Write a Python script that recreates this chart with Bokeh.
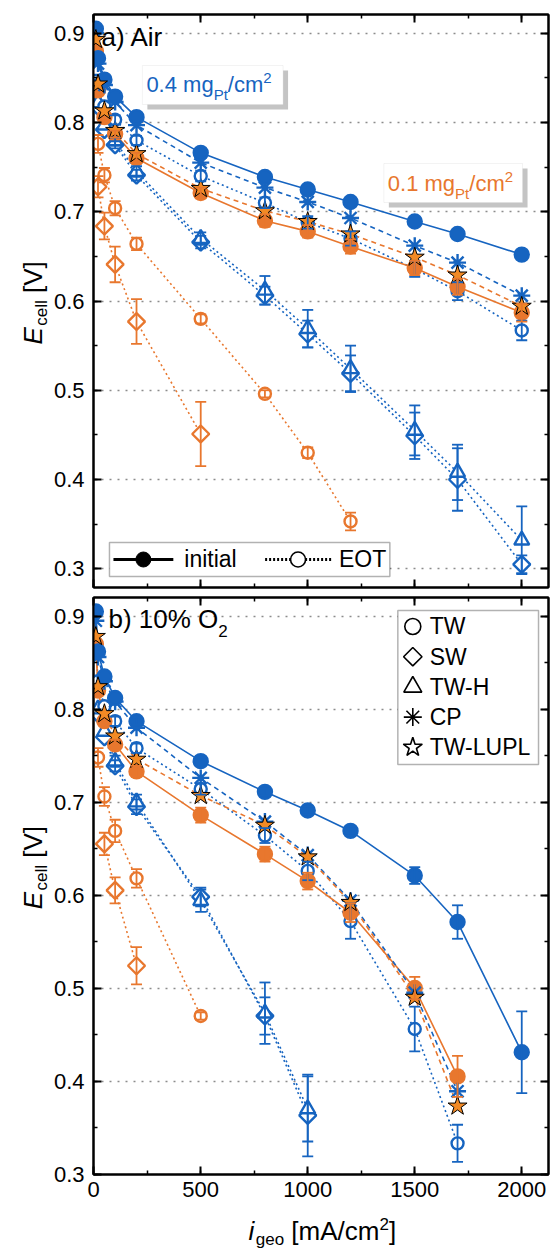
import math
from bokeh.plotting import figure
from bokeh.layouts import column, row
from bokeh.models import (Range1d, LinearAxis, SingleIntervalTicker, Whisker, TeeHead,
                          ColumnDataSource, Label, BoxAnnotation, CustomJSTickFormatter)
from bokeh.embed import file_html
from bokeh.resources import INLINE

BLUE = "#1664C0"
ORANGE = "#E8772E"
STAR = "#F28A25"
FONT = "Liberation Sans"

# ---------------- data: panel a (Air) ----------------
I_A = [10, 20, 50, 100, 200, 500, 800, 1000, 1200, 1500, 1700, 2000]
a_init_04 = [0.905, 0.872, 0.848, 0.829, 0.806, 0.766, 0.739, 0.725, 0.711, 0.689, 0.675, 0.652]
a_cp_04 = [0.900, 0.866, 0.842, 0.823, 0.797, 0.755, 0.727, 0.711, 0.693, 0.662, 0.643, 0.606]
a_tw_04 = [0.875, 0.842, 0.818, 0.803, 0.780, 0.740, 0.710, 0.688, 0.670, 0.636, 0.611, 0.567]
a_tw_04_err = [0, 0, 0, 0.005, 0.005, 0.006, 0.006, 0.007, 0.008, 0.009, 0.010, 0.011]
a_twh_04 = [0.858, 0.822, 0.797, 0.779, 0.745, 0.670, 0.612, 0.569, 0.524, 0.455, 0.408, 0.332]
a_twh_04_err = [0, 0, 0, 0.004, 0.006, 0.007, 0.016, 0.021, 0.026, 0.028, 0.031, 0.038]
a_sw_04 = [0.852, 0.818, 0.792, 0.775, 0.741, 0.666, 0.606, 0.563, 0.519, 0.449, 0.400, 0.305]
a_sw_04_err = [0, 0, 0, 0.004, 0.006, 0.007, 0.010, 0.015, 0.020, 0.026, 0.035, 0.010]
a_init_01 = [0.880, 0.836, 0.806, 0.787, 0.760, 0.721, 0.690, 0.678, 0.661, 0.637, 0.616, 0.587]
a_init_01_err = [0, 0, 0, 0.004, 0.006, 0.006, 0.007, 0.007, 0.008, 0.008, 0.009, 0.010]
a_lupl_01 = [0.893, 0.843, 0.813, 0.791, 0.765, 0.726, 0.701, 0.689, 0.675, 0.649, 0.629, 0.594]
I_A_TW01 = [20, 50, 100, 200, 500, 800, 1000, 1200]
a_tw_01 = [0.776, 0.741, 0.704, 0.664, 0.580, 0.496, 0.430, 0.353]
a_tw_01_err = [0.010, 0.008, 0.008, 0.007, 0.005, 0.004, 0.006, 0.010]
I_A_SW01 = [20, 50, 100, 200, 500]
a_sw_01 = [0.728, 0.684, 0.641, 0.577, 0.451]
a_sw_01_err = [0.012, 0.015, 0.020, 0.025, 0.036]

# ---------------- data: panel b (10% O2) ----------------
I_B = [10, 20, 50, 100, 200, 500, 800, 1000, 1200, 1500, 1700, 2000]
b_init_04 = [0.905, 0.862, 0.835, 0.812, 0.787, 0.744, 0.711, 0.691, 0.669, 0.621, 0.571, 0.431]
b_init_04_err = [0, 0, 0, 0, 0.004, 0.004, 0.004, 0.004, 0.005, 0.009, 0.018, 0.044]
I_B17 = [10, 20, 50, 100, 200, 500, 800, 1000, 1200, 1500, 1700]
b_cp_04 = [0.895, 0.856, 0.830, 0.808, 0.780, 0.726, 0.679, 0.643, 0.594, 0.495, 0.389]
b_tw_04 = [0.870, 0.830, 0.803, 0.787, 0.758, 0.714, 0.664, 0.626, 0.572, 0.456, 0.333]
b_tw_04_err = [0, 0, 0, 0.005, 0.005, 0.006, 0.008, 0.010, 0.019, 0.024, 0.020]
I_B_H = [20, 50, 100, 200, 500, 800, 1000]
b_twh_04 = [0.800, 0.776, 0.744, 0.700, 0.594, 0.473, 0.370]
b_twh_04_err = [0, 0, 0.006, 0.008, 0.012, 0.033, 0.035]
b_sw_04 = [0.795, 0.770, 0.739, 0.695, 0.598, 0.470, 0.363]
b_sw_04_err = [0, 0, 0.006, 0.008, 0.010, 0.020, 0.044]
b_init_01 = [0.870, 0.820, 0.787, 0.762, 0.733, 0.686, 0.644, 0.615, 0.581, 0.500, 0.405]
b_init_01_err = [0, 0, 0, 0.005, 0.006, 0.008, 0.008, 0.009, 0.010, 0.012, 0.022]
b_lupl_01 = [0.878, 0.824, 0.795, 0.771, 0.746, 0.707, 0.675, 0.641, 0.592, 0.490, 0.373]
I_B_TW01 = [20, 50, 100, 200, 500]
b_tw_01 = [0.748, 0.706, 0.669, 0.618, 0.470]
b_tw_01_err = [0.010, 0.010, 0.012, 0.010, 0.004]
I_B_SW01 = [50, 100, 200]
b_sw_01 = [0.655, 0.605, 0.524]
b_sw_01_err = [0.012, 0.014, 0.020]

LEGEND_A = ["initial", "EOT"]
LEGEND_B = ["TW", "SW", "TW-H", "CP", "TW-LUPL"]

X_TICK_STEP = 500
Y_TICK_STEP = 0.1

# ---------------- layout ----------------
W = 553
STRIP = 50            # strip holding the rotated y label
BL, BR = 92 - STRIP, 5
PW = W - STRIP
FW = PW - BL - BR     # 456
XR = (-1, 2125)
A_TOP, A_FH, A_BOT = 14, 573, 5
B_TOP, B_FH, B_BOT = 5, 577, 38
XL_H = 1251 - (A_TOP + A_FH + A_BOT) - (B_TOP + B_FH + B_BOT)
A_YR = (0.279, 0.921)
B_YR = (0.2995, 0.92)

CW = {'0': .556, '1': .556, '2': .556, '3': .556, '4': .556, '5': .556, '6': .556, '7': .556,
      '8': .556, '9': .556, '.': .278, ' ': .278, 'm': .833, 'g': .556, 'P': .667, 't': .278,
      '/': .278, 'c': .5, 'e': .556, 'l': .222, 'o': .556, '[': .278, ']': .278, 'A': .667,
      'V': .667, 'E': .667, 'i': .222, 'b': .556, ')': .333, '%': .889, 'O': .778, 'a': .556,
      'r': .333}
MID = 0.35   # distance from baseline to the middle of the em box, in em


def tw(s, size):
    return sum(CW.get(ch, .556) for ch in s) * size


def make_panel(height, top, bottom, fh, yr, labels_x, top_offset):
    p = figure(width=PW, height=height, x_range=Range1d(*XR), y_range=Range1d(*yr),
               output_backend="svg", toolbar_location=None,
               min_border_left=BL, min_border_right=BR, min_border_top=top,
               min_border_bottom=bottom)
    xt = SingleIntervalTicker(interval=X_TICK_STEP, num_minor_ticks=2)
    yt = SingleIntervalTicker(interval=Y_TICK_STEP, num_minor_ticks=2)
    p.xaxis.ticker = xt
    p.yaxis.ticker = yt
    p.add_layout(LinearAxis(ticker=xt), "above")
    p.add_layout(LinearAxis(ticker=yt), "right")
    blank = CustomJSTickFormatter(code="return ''")
    for ax in p.axis:
        ax.axis_line_width = 2
        ax.axis_line_color = "black"
        ax.major_tick_in = 8
        ax.major_tick_out = 0
        ax.minor_tick_in = 4
        ax.minor_tick_out = 0
        ax.major_tick_line_width = 2
        ax.minor_tick_line_width = 1.5
        ax.major_label_text_font = FONT
        ax.major_label_text_color = "black"
        ax.major_label_text_font_size = "22px"
        ax.major_label_standoff = 0
        ax.formatter = blank
    yl = p.left[0]
    yl.formatter = CustomJSTickFormatter(code="return tick.toFixed(1)")
    yl.major_label_standoff = 9
    if labels_x:
        xl = p.below[0]
        xl.formatter = CustomJSTickFormatter(code="return tick.toFixed(0)")
        xl.major_label_standoff = 7
    p.xgrid.visible = False
    p.ygrid.grid_line_color = "#8c8c8c"
    p.ygrid.grid_line_dash = "2 6"
    p.ygrid.grid_line_width = 1.3
    p.outline_line_color = "black"
    p.outline_line_width = 2
    p.background_fill_color = "white"
    p.border_fill_color = "white"

    def px2x(px):
        return XR[0] + (px - 92) * (XR[1] - XR[0]) / FW

    def py2y(py):
        return yr[1] - (py - top_offset) * (yr[1] - yr[0]) / fh
    return p, px2x, py2y


def make_strip(w, h):
    s = figure(width=w, height=h, x_range=Range1d(0, w), y_range=Range1d(0, h),
               output_backend="svg", toolbar_location=None, x_axis_type=None, y_axis_type=None,
               min_border=0, outline_line_color=None)
    s.xgrid.visible = False
    s.ygrid.visible = False
    s.background_fill_color = "white"
    s.border_fill_color = "white"
    return s


def rich(p, x, y, pieces, color="black", angle=0.0):
    """Place text pieces on a common baseline (x, y); shift moves a piece up (+) or down (-)."""
    adv = 0.0
    for text, size, shift, italic in pieces:
        lead = len(text) - len(text.lstrip(" "))
        adv += lead * CW[" "] * size
        text = text.lstrip(" ")
        up = shift + MID * size
        if angle == 0:
            xo, yo = adv, up
        else:
            xo, yo = -up, adv
        p.add_layout(Label(x=x, y=y, x_offset=xo, y_offset=yo, text=text, angle=angle,
                           text_font=FONT, text_font_size=f"{size}px", text_color=color,
                           text_font_style="italic" if italic else "normal",
                           text_baseline="middle", text_align="left"))
        adv += tw(text, size) + (1.5 if italic else 0)


def draw(p, specs):
    srcs = [ColumnDataSource(dict(x=s["x"], y=s["y"])) for s in specs]
    for s, src in zip(specs, srcs):
        p.line("x", "y", source=src, line_color=s["color"], line_width=1.6, line_dash=s["dash"])
    for s in specs:
        errs = s.get("err")
        if not errs:
            continue
        ex = [x for x, e in zip(s["x"], errs) if e > 0]
        lo = [y - e for y, e in zip(s["y"], errs) if e > 0]
        hi = [y + e for y, e in zip(s["y"], errs) if e > 0]
        es = ColumnDataSource(dict(x=ex, lo=lo, hi=hi))
        p.add_layout(Whisker(source=es, base="x", lower="lo", upper="hi", dimension="height",
                             line_color=s["color"], line_width=1.8, level="glyph",
                             upper_head=TeeHead(size=11, line_color=s["color"], line_width=1.8),
                             lower_head=TeeHead(size=11, line_color=s["color"], line_width=1.8)))
    for s, src in zip(specs, srcs):
        m = s["marker"]
        kw = dict(size=s["size"], line_color=s.get("lc", s["color"]), line_width=s.get("lw", 2.4),
                  fill_color=s["fill"])
        if m == "diamond":
            p.scatter("x", "y", source=src, marker="square", angle=math.pi / 4, **kw)
        else:
            p.scatter("x", "y", source=src, marker=m, **kw)


DOT = "2 3"
DASH = "5 4"


def spec(x, y, color, marker, fill, dash, size, err=None, lc=None, lw=2.4):
    d = dict(x=x, y=y, color=color, marker=marker, fill=fill, dash=dash, size=size, err=err, lw=lw)
    if lc:
        d["lc"] = lc
    return d


def legend_box(p, fx, fy, l, r, t, b):
    p.add_layout(BoxAnnotation(left=fx(l), right=fx(r), top=fy(t), bottom=fy(b),
                               fill_color="white", fill_alpha=1, line_color="black",
                               line_width=1.5))


# ---------------- panel a ----------------
HA = A_TOP + A_FH + A_BOT
pa, ax_x, ay_y = make_panel(HA, A_TOP, A_BOT, A_FH, A_YR, False, A_TOP)
draw(pa, [
    spec(I_A_SW01, a_sw_01, ORANGE, "diamond", "white", DOT, 12, a_sw_01_err),
    spec(I_A_TW01, a_tw_01, ORANGE, "circle", "white", DOT, 12, a_tw_01_err),
    spec(I_A, a_sw_04, BLUE, "diamond", "white", DOT, 12, a_sw_04_err),
    spec(I_A, a_twh_04, BLUE, "triangle", "white", DOT, 15, a_twh_04_err),
    spec(I_A, a_tw_04, BLUE, "circle", "white", DOT, 12, a_tw_04_err),
    spec(I_A, a_init_01, ORANGE, "circle", ORANGE, "solid", 14, a_init_01_err),
    spec(I_A, a_cp_04, BLUE, "asterisk", BLUE, DASH, 17),
    spec(I_A, a_init_04, BLUE, "circle", BLUE, "solid", 14),
    spec(I_A, a_lupl_01, ORANGE, "star", STAR, DASH, 20, lc="black", lw=1),
])

# panel a legend (initial / EOT), drawn by hand
legend_box(pa, ax_x, ay_y, 108, 389, 542, 576)
ky = ay_y(559)
pa.segment(x0=[ax_x(112)], y0=[ky], x1=[ax_x(172)], y1=[ky], line_color="black",
           line_width=3, level="overlay")
pa.scatter(x=[ax_x(142)], y=[ky], marker="circle", size=15, fill_color="black",
           line_color="black", level="overlay")
pa.segment(x0=[ax_x(264)], y0=[ky], x1=[ax_x(331)], y1=[ky], line_color="black",
           line_width=3, line_dash="2 2", level="overlay")
pa.scatter(x=[ax_x(297)], y=[ky], marker="circle", size=15, fill_color="white",
           line_color="black", line_width=1.6, level="overlay")
rich(pa, ax_x(183), ay_y(567), [(LEGEND_A[0], 23, 0, False)])
rich(pa, ax_x(338), ay_y(567), [(LEGEND_A[1], 23, 0, False)])

# loading boxes
for (l, r, t, b, col, tx, ty, num) in [(141, 282, 65, 104, BLUE, 145, 92, "0.4"),
                                       (383, 522, 163, 202, ORANGE, 387, 191, "0.1")]:
    pa.add_layout(BoxAnnotation(left=ax_x(l + 5), right=ax_x(r + 5), top=ay_y(t + 5),
                                bottom=ay_y(b + 5), fill_color="#c4c4c4", fill_alpha=1,
                                line_color=None))
    pa.add_layout(BoxAnnotation(left=ax_x(l), right=ax_x(r), top=ay_y(t), bottom=ay_y(b),
                                fill_color="white", fill_alpha=1, line_color="#d6d6d6",
                                line_width=1))
    rich(pa, ax_x(tx), ay_y(ty), [(num + " mg", 22, 0, False), ("Pt", 15, -7, False),
                                  ("/cm", 22, 0, False), ("2", 15, 9, False)], color=col)

rich(pa, ax_x(100), ay_y(46), [("a) Air", 26, 0, False)])

sa = make_strip(STRIP, HA)
rich(sa, 42, HA - 341, [("E", 26, 0, True), ("cell", 17, -5, False), (" [V]", 26, 0, False)],
     angle=math.pi / 2)

# ---------------- panel b ----------------
HB = B_TOP + B_FH + B_BOT
pb, bx_x, by_y = make_panel(HB, B_TOP, B_BOT, B_FH, B_YR, True, HA + B_TOP)
draw(pb, [
    spec(I_B_SW01, b_sw_01, ORANGE, "diamond", "white", DOT, 12, b_sw_01_err),
    spec(I_B_TW01, b_tw_01, ORANGE, "circle", "white", DOT, 12, b_tw_01_err),
    spec(I_B_H, b_sw_04, BLUE, "diamond", "white", DOT, 12, b_sw_04_err),
    spec(I_B_H, b_twh_04, BLUE, "triangle", "white", DOT, 15, b_twh_04_err),
    spec(I_B17, b_tw_04, BLUE, "circle", "white", DOT, 12, b_tw_04_err),
    spec(I_B17, b_init_01, ORANGE, "circle", ORANGE, "solid", 14, b_init_01_err),
    spec(I_B17, b_cp_04, BLUE, "asterisk", BLUE, DASH, 17),
    spec(I_B, b_init_04, BLUE, "circle", BLUE, "solid", 14, b_init_04_err),
    spec(I_B17, b_lupl_01, ORANGE, "star", STAR, DASH, 20, lc="black", lw=1),
])

# panel b legend (marker key), drawn by hand
legend_box(pb, bx_x, by_y, 397, 538, 610, 764)
leg_markers = [("circle", 0, 16), ("square", math.pi / 4, 13), ("triangle", 0, 18),
               ("asterisk", 0, 18), ("star", 0, 20)]
for k, (name, (mk, ang, sz)) in enumerate(zip(LEGEND_B, leg_markers)):
    cy = 626 + 30.2 * k
    pb.scatter(x=[bx_x(412)], y=[by_y(cy)], marker=mk, angle=ang, size=sz, fill_color="white",
               line_color="black", line_width=1.6, level="overlay")
    rich(pb, bx_x(429), by_y(cy + 8), [(name, 23, 0, False)])

rich(pb, bx_x(107), by_y(628), [("b) 10% O", 26, 0, False), ("2", 17, -8, False)])

sb = make_strip(STRIP, HB)
rich(sb, 42, HB - (927 - HA), [("E", 26, 0, True), ("cell", 17, -5, False), (" [V]", 26, 0, False)],
     angle=math.pi / 2)

# ---------------- x label strip ----------------
sx = make_strip(W, XL_H)
rich(sx, 248, XL_H - (1240 - HA - HB), [("i", 26, 0, True), ("geo", 17, -5, False),
                                        (" [mA/cm", 26, 0, False), ("2", 17, 11, False),
                                        ("]", 26, 0, False)])

layout = column(row(sa, pa, spacing=0), row(sb, pb, spacing=0), sx, spacing=0)
open("out.html", "w").write(file_html(layout, INLINE))
